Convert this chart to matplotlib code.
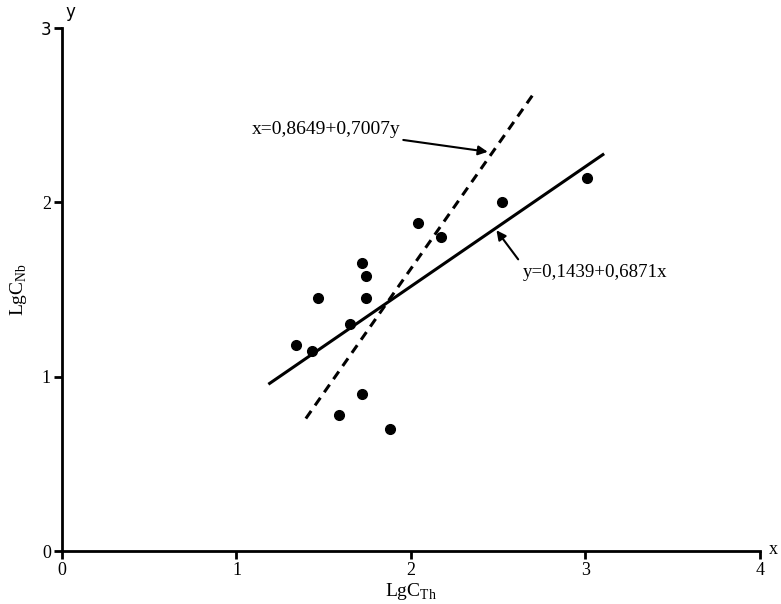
import numpy as np
import matplotlib
matplotlib.use('Agg')
import matplotlib.pyplot as plt

plt.rcParams['font.family'] = ['Liberation Serif', 'DejaVu Serif']
plt.rcParams['mathtext.fontset'] = 'custom'
plt.rcParams['mathtext.rm'] = 'Liberation Serif'

# data points
lg_th = [1.34, 1.43, 1.47, 1.65, 1.59, 1.72, 1.74, 1.74, 1.72, 1.88, 2.04, 2.17, 2.52, 3.01]
lg_nb = [1.18, 1.15, 1.45, 1.30, 0.78, 1.65, 1.58, 1.45, 0.90, 0.70, 1.88, 1.80, 2.00, 2.14]

# regression lines
a_yx, b_yx = 0.1439, 0.6871   # y = a + b x
a_xy, b_xy = 0.8649, 0.7007   # x = a + b y
solid_x = np.array([1.19, 3.10])
dash_y = np.array([0.76, 2.625])

fig = plt.figure(figsize=(7.81, 6.04), dpi=100)
ax = fig.add_axes([0.0794, 0.0877, 0.8936, 0.8659])

ax.plot(lg_th, lg_nb, 'o', color='black', ms=7)
ax.plot(solid_x, a_yx + b_yx * solid_x, '-', color='black', lw=2.2)
ax.plot(a_xy + b_xy * dash_y, dash_y, '--', color='black', lw=2.2, dashes=(3.05, 2.2))

ax.set_xlim(0, 4)
ax.set_ylim(0, 3)
ax.set_xticks([0, 1, 2, 3, 4])
ax.set_yticks([0, 1, 2, 3])
for s in ['top', 'right']:
    ax.spines[s].set_visible(False)
for s in ['left', 'bottom']:
    ax.spines[s].set_linewidth(2)
ax.tick_params(axis='both', direction='out', length=6, width=2, labelsize=13, pad=2)
# the top y tick label is drawn in a sans face in the original
ax.get_yticklabels()[-1].set_family('DejaVu Sans')
ax.get_yticklabels()[-1].set_fontsize(12)

ax.set_xlabel('LgC$_{\\mathrm{Th}}$', fontsize=14, labelpad=1)
ax.set_ylabel('LgC$_{\\mathrm{Nb}}$', fontsize=14, labelpad=8)

ax.text(4.05, 0.01, 'x', fontsize=13, va='center', ha='left')
ax.text(0.02, 3.04, 'y', fontsize=12, va='bottom', ha='left', family='DejaVu Sans')

ax.annotate('x=0,8649+0,7007y', xy=(2.44, 2.29), xytext=(1.94, 2.42),
            fontsize=14, ha='right', va='center',
            arrowprops=dict(arrowstyle='-|>', color='black', lw=1.5, mutation_scale=14,
                            shrinkA=0, shrinkB=0))
ax.annotate('y=0,1439+0,6871x', xy=(2.49, 1.84), xytext=(2.64, 1.60),
            fontsize=13.6, ha='left', va='center',
            arrowprops=dict(arrowstyle='-|>', color='black', lw=1.5, mutation_scale=14,
                            shrinkA=2, shrinkB=0, relpos=(0, 0.9)))

fig.savefig('out.png', dpi=100)
